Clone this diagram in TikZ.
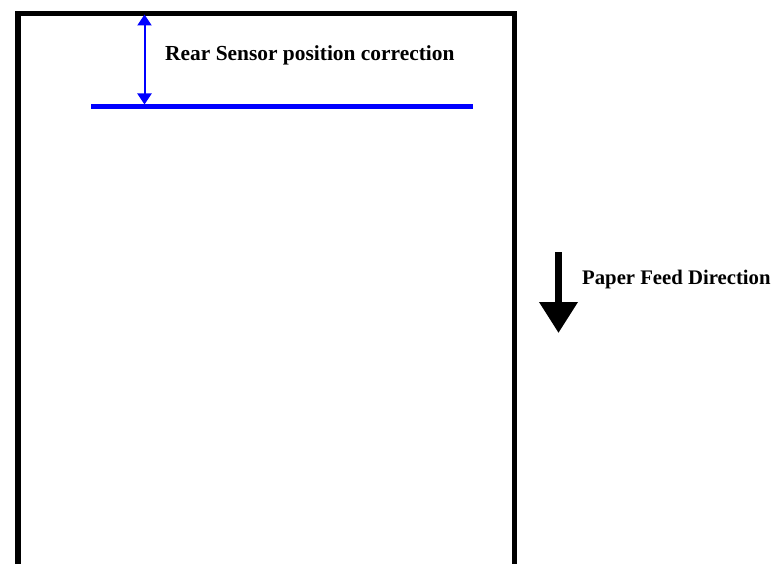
\documentclass[tikz,border=0pt]{standalone}
\usepackage{fontspec}
\setmainfont{Liberation Serif}
\usetikzlibrary{arrows.meta}
\definecolor{lineblue}{RGB}{0,0,255}
\tikzset{
  frame/.style={line width=5.5bp, line join=miter},
  bluebar/.style={draw=lineblue, line width=4.5bp},
  bluearrow/.style={draw=lineblue, line width=2bp, {Triangle[width=14bp,length=11bp]}-{Triangle[width=14bp,length=11bp]}},
  feedarrow/.style={line width=7bp, -{Triangle[width=37bp,length=31bp]}},
  label/.style={font=\bfseries\fontsize{21.5}{25}\selectfont, inner sep=0pt, anchor=base west}
}
\begin{document}
\begin{tikzpicture}[x=1bp,y=-1bp]
\useasboundingbox[fill=white] (0,0) rectangle (777,564);
\coordinate (fbl) at (18,566);
\coordinate (ftl) at (18,13.5);
\coordinate (ftr) at (514.5,13.5);
\coordinate (fbr) at (514.5,566);
\draw[frame] (fbl) -- (ftl) -- (ftr) -- (fbr);
\coordinate (barL) at (91,106.5);
\coordinate (barR) at (473,106.5);
\draw[bluebar] (barL) -- (barR);
\coordinate (atop) at (144.5,14.5);
\coordinate (abot) at (144.5,104.5);
\draw[bluearrow] (atop) -- (abot);
\node[label] (rear) at (165,61) {Rear Sensor position correction};
\coordinate (ptop) at (558.5,252);
\coordinate (ptip) at (558.5,333);
\draw[feedarrow] (ptop) -- (ptip);
\node[label, font=\bfseries\fontsize{20.8}{24}\selectfont] (feed) at (582,284) {Paper Feed Direction};
\end{tikzpicture}
\end{document}
